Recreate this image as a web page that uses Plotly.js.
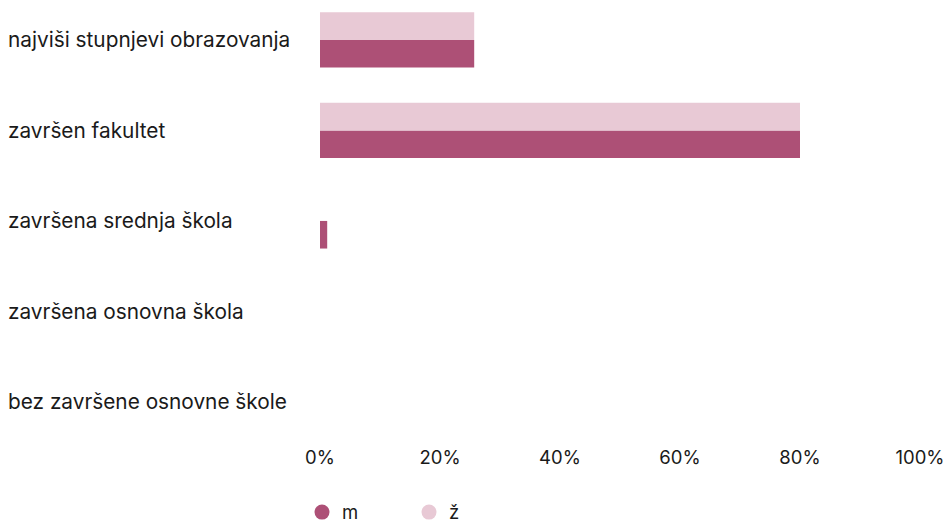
<!DOCTYPE html>
<html>
<head>
<meta charset="utf-8">
<script src="https://cdn.plot.ly/plotly-3.0.1.min.js"></script>
<style>html,body{margin:0;padding:0;background:#fff;}#chart{width:948px;height:524px;}</style>
</head>
<body>
<div id="chart"></div>
<script>
// Categories listed bottom to top
const categories = [
  "bez završene osnovne škole",
  "završena osnovna škola",
  "završena srednja škola",
  "završen fakultet",
  "najviši stupnjevi obrazovanja"
];
const valuesM = [0, 0, 1.2, 80, 25.7];
const valuesZ = [0, 0, 0, 80, 25.7];
const seriesNames = ["m", "ž"];
const tickValues = [0, 20, 40, 60, 80, 100];
const tickLabels = ["0%", "20%", "40%", "60%", "80%", "100%"];

const colorM = "#ad5076";
const colorZ = "#e8c9d5";
const font = "Inter, 'Noto Sans', sans-serif";

const traces = [
  {type: "bar", orientation: "h", name: seriesNames[0], y: categories, x: valuesM,
   marker: {color: colorM}, showlegend: false, hoverinfo: "x+y"},
  {type: "bar", orientation: "h", name: seriesNames[1], y: categories, x: valuesZ,
   marker: {color: colorZ}, showlegend: false, hoverinfo: "x+y"},
  {type: "scatter", mode: "markers", name: seriesNames[0], x: [null], y: [null],
   marker: {color: colorM, size: 15, symbol: "circle"}},
  {type: "scatter", mode: "markers", name: seriesNames[1], x: [null], y: [null],
   marker: {color: colorZ, size: 15, symbol: "circle"}}
];

const annotations = categories.map(c => ({
  text: c, xref: "paper", yref: "y", x: -0.5233, y: c,
  xanchor: "left", yanchor: "middle", showarrow: false,
  font: {family: font, size: 20.8, color: "#1a1a1a"}
}));

const layout = {
  width: 948, height: 524,
  margin: {l: 320, r: 28, t: 10, b: 80, pad: 0, autoexpand: false},
  paper_bgcolor: "#fff", plot_bgcolor: "#fff",
  barmode: "group", bargap: 0.39, bargroupgap: 0,
  font: {family: font, size: 18, color: "#1a1a1a"},
  xaxis: {range: [0, 100], tickvals: tickValues, ticktext: tickLabels,
    showgrid: false, zeroline: false, showline: false, ticks: "",
    ticklabelstandoff: 0, tickfont: {family: font, size: 18.5, color: "#1a1a1a"}, fixedrange: true},
  yaxis: {type: "category", range: [-0.465, 4.331], showticklabels: false,
    showgrid: false, zeroline: false, showline: false, ticks: "", fixedrange: true},
  annotations: annotations,
  showlegend: true,
  legend: {orientation: "h", x: -0.03, xanchor: "left", y: -0.158, yanchor: "middle",
    entrywidth: 62, entrywidthmode: "pixels", traceorder: "normal",
    font: {family: font, size: 18.5, color: "#1a1a1a"}, bgcolor: "rgba(0,0,0,0)"}
};

Plotly.newPlot("chart", traces, layout, {displayModeBar: false, staticPlot: true});
</script>
</body>
</html>
